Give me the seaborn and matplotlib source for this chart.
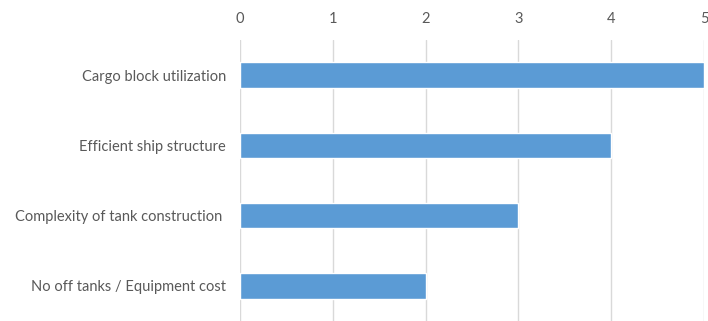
import matplotlib
matplotlib.use("Agg")
import matplotlib.pyplot as plt
import seaborn as sns
import pandas as pd

categories = ["Cargo block utilization", "Efficient ship structure",
              "Complexity of tank construction ", "No off tanks / Equipment cost"]
values = [5, 4, 3, 2]
xticks = [0, 1, 2, 3, 4, 5]

df = pd.DataFrame({"category": categories, "value": values})

sns.set_theme(style="white")
plt.rcParams['font.family'] = ['Lato', 'DejaVu Sans']

fig = plt.figure(figsize=(7.08, 3.21), dpi=100)
ax = fig.add_axes([240/708, 0.0, (704-240)/708, (321-40)/321])

sns.barplot(data=df, x="value", y="category", color="#5B9BD5", width=0.36,
            saturation=1, ax=ax, zorder=3)

ax.set_xlim(0, 5)
ax.set_ylim(3.5, -0.5)
ax.set_xticks(xticks)
ax.xaxis.tick_top()
ax.xaxis.set_label_position("top")
ax.set_xlabel("")
ax.set_ylabel("")
ax.grid(axis="x", color="#D9D9D9", linewidth=1, zorder=0)
ax.grid(axis="y", visible=False)
for s in ax.spines.values():
    s.set_visible(False)
ax.tick_params(axis="x", length=0, pad=10, labelsize=10.5, colors="#595959")
ax.tick_params(axis="y", length=0, pad=10, labelsize=10.5, colors="#595959")

fig.savefig("out.png", dpi=100)
